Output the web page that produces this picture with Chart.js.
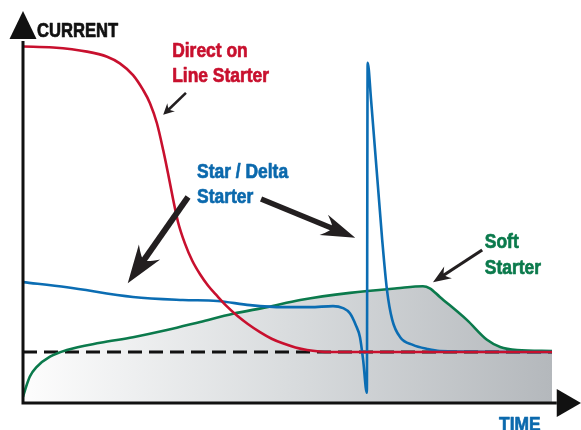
<!DOCTYPE html>
<html>
<head>
<meta charset="utf-8">
<script src="https://cdn.jsdelivr.net/npm/chart.js@4/dist/chart.umd.min.js"></script>
<style>
html,body{margin:0;padding:0;background:#fff;}
#wrap{width:581px;height:430px;position:relative;}
</style>
</head>
<body>
<div id="wrap"><canvas id="c"></canvas></div>
<script>
// ---- data (time in % of plotted span, current in multiples of rated current) ----
const dolTime    = [0, 5.7, 12.1, 15.9, 18.3, 20.8, 22.7, 24.0, 25.3, 26.5, 27.4, 28.4, 29.3, 30.6, 32.0, 33.5, 35.0, 36.7, 38.5, 40.5, 42.5, 44.8, 47.0, 49.1, 51.5, 53.7, 56.0, 58, 100];
const dolCurrent = [6.99, 6.97, 6.89, 6.79, 6.66, 6.43, 6.14, 5.88, 5.49, 4.96, 4.51, 3.98, 3.55, 3.13, 2.79, 2.52, 2.30, 2.10, 1.90, 1.71, 1.55, 1.39, 1.26, 1.17, 1.09, 1.04, 1.01, 1.0, 1.0];

const sdTime     = [0, 8.3, 20.8, 30.2, 36.7, 42.9, 49.1, 54.3, 58.6, 60.5, 61.8, 62.9, 63.7, 64.3, 65.0, 65.15, 65.8, 67.9, 68.8, 69.8, 71.3, 73.7, 76.4, 78.8, 100];
const sdCurrent  = [2.37, 2.27, 2.08, 2.02, 2.0, 1.92, 1.88, 1.88, 1.90, 1.86, 1.76, 1.53, 1.29, 0.84, 0.2, 6.67, 5.94, 3.2, 2.22, 1.63, 1.29, 1.14, 1.06, 1.02, 1.0];

const softTime    = [0, 0.4, 1.3, 2.6, 5.1, 8.3, 14.6, 20.8, 27.2, 33.5, 39.7, 46.1, 52.4, 61.8, 70.7, 75.6, 76.9, 78.8, 83.9, 87.7, 90.2, 93.4, 100];
const softCurrent = [0.12, 0.26, 0.52, 0.71, 0.91, 1.04, 1.18, 1.29, 1.43, 1.59, 1.75, 1.88, 2.02, 2.16, 2.25, 2.29, 2.25, 2.08, 1.63, 1.24, 1.10, 1.04, 1.02];

const ratedTime    = [0, 100];
const ratedCurrent = [1, 1];

// ---- labels & annotations (data units) ----
const labels = [
  {text: 'CURRENT',      t: 2.65, i: 7.18, color: '#111111', size: 20},
  {text: 'Direct on',    t: 28.2, i: 6.78, color: '#c8102e', size: 21},
  {text: 'Line Starter', t: 28.2, i: 6.29, color: '#c8102e', size: 21},
  {text: 'Star / Delta', t: 32.9, i: 4.41, color: '#0b69ad', size: 21},
  {text: 'Starter',      t: 32.9, i: 3.92, color: '#0b69ad', size: 21},
  {text: 'Soft',         t: 87.3, i: 3.04, color: '#0b7a4c', size: 21},
  {text: 'Starter',      t: 87.3, i: 2.53, color: '#0b7a4c', size: 21},
  {text: 'TIME',         t: 90.0, i: -0.55, color: '#0b69ad', size: 21}
];
const pointers = [
  {t1: 30.8, i1: 6.08, t2: 26.5, i2: 5.65, w: 2.6, hl: 11, hw: 5.5},
  {t1: 31.2, i1: 4.04, t2: 19.8, i2: 2.35, w: 6,   hl: 38, hw: 13},
  {t1: 45.0, i1: 4.00, t2: 62.8, i2: 3.24, w: 5.5, hl: 34, hw: 11},
  {t1: 86.8, i1: 3.00, t2: 77.5, i2: 2.37, w: 3.2, hl: 18, hw: 7}
];

const zip = (xs, ys) => xs.map((x, k) => ({x: x, y: ys[k]}));

function drawArrow(ctx, x1, y1, x2, y2, w, hl, hw) {
  const ang = Math.atan2(y2 - y1, x2 - x1);
  const len = Math.hypot(x2 - x1, y2 - y1);
  ctx.save();
  ctx.translate(x2, y2);
  ctx.rotate(ang);
  ctx.fillStyle = '#231f20';
  ctx.fillRect(-len, -w / 2, len - hl * 0.6, w);
  ctx.beginPath();
  ctx.moveTo(0, 0);
  ctx.lineTo(-hl, -hw);
  ctx.quadraticCurveTo(-hl * 0.7, -w * 0.3, -hl * 0.75, 0);
  ctx.quadraticCurveTo(-hl * 0.7, w * 0.3, -hl, hw);
  ctx.closePath();
  ctx.fill();
  ctx.restore();
}

const decor = {
  id: 'decor',
  afterDatasetsDraw(chart) {
    const ctx = chart.ctx, xs = chart.scales.x, ys = chart.scales.y;
    const X = v => xs.getPixelForValue(v), Y = v => ys.getPixelForValue(v);
    ctx.save();
    ctx.strokeStyle = '#111';
    ctx.fillStyle = '#111';
    ctx.lineWidth = 3;
    const ox = X(0), oy = Y(0);
    ctx.beginPath();
    ctx.moveTo(ox, oy + 1.5);
    ctx.lineTo(ox, Y(7.1));
    ctx.moveTo(ox - 1.5, oy);
    ctx.lineTo(X(100.9), oy);
    ctx.stroke();
    const top = chart.chartArea.top;
    ctx.beginPath();
    ctx.moveTo(ox, top - 1);
    ctx.lineTo(ox - 13.5, Y(7.14));
    ctx.lineTo(ox + 13.5, Y(7.14));
    ctx.closePath();
    ctx.fill();
    const right = chart.chartArea.right;
    ctx.beginPath();
    ctx.moveTo(right, oy);
    ctx.lineTo(X(100.9), oy - 14);
    ctx.lineTo(X(100.9), oy + 14);
    ctx.closePath();
    ctx.fill();
    pointers.forEach(p => drawArrow(ctx, X(p.t1), Y(p.i1), X(p.t2), Y(p.i2), p.w, p.hl, p.hw));
    ctx.textBaseline = 'alphabetic';
    ctx.textAlign = 'left';
    labels.forEach(l => {
      ctx.save();
      ctx.fillStyle = l.color;
      ctx.strokeStyle = l.color;
      ctx.lineWidth = 0.7;
      ctx.lineJoin = 'round';
      ctx.font = 'bold ' + l.size + 'px "Liberation Sans", Arial, sans-serif';
      ctx.translate(X(l.t), Y(l.i));
      ctx.scale(0.83, 1);
      ctx.fillText(l.text, 0, 0);
      ctx.strokeText(l.text, 0, 0);
      ctx.restore();
    });
    ctx.restore();
  }
};

const ctx = document.getElementById('c').getContext('2d');
new Chart(ctx, {
  type: 'line',
  data: {
    datasets: [
      {label: 'Direct on Line Starter', data: zip(dolTime, dolCurrent), borderColor: '#c8102e', borderWidth: 2.6, pointRadius: 0, cubicInterpolationMode: 'monotone', fill: false},
      {label: 'Star / Delta Starter', data: zip(sdTime, sdCurrent), borderColor: '#0b6db3', borderWidth: 2.6, pointRadius: 0, cubicInterpolationMode: 'monotone', fill: false},
      {label: 'Soft Starter', data: zip(softTime, softCurrent), borderColor: '#0b7a4c', borderWidth: 2.6, pointRadius: 0, cubicInterpolationMode: 'monotone',
        fill: 'origin',
        backgroundColor: (c) => {
          const ch = c.chart, a = ch.chartArea;
          if (!a) return '#ddd';
          const g = ch.ctx.createLinearGradient(ch.scales.x.getPixelForValue(0), 0, ch.scales.x.getPixelForValue(100), 0);
          g.addColorStop(0, '#fdfdfd');
          g.addColorStop(0.5, '#d9dcde');
          g.addColorStop(1, '#b4b8bc');
          return g;
        }},
      {label: 'Rated current', data: zip(ratedTime, ratedCurrent), borderColor: '#111', borderWidth: 3, borderDash: [14, 7], pointRadius: 0, fill: false}
    ]
  },
  options: {
    responsive: true,
    maintainAspectRatio: false,
    animation: false,
    layout: {padding: {left: 23, right: 0, top: 12, bottom: 27}},
    scales: {
      x: {type: 'linear', min: 0, max: 105.48, display: false},
      y: {type: 'linear', min: 0, max: 7.667, display: false}
    },
    plugins: {
      legend: {display: false},
      tooltip: {enabled: false},
      filler: {drawTime: 'beforeDatasetsDraw'}
    }
  },
  plugins: [decor]
});
</script>
</body>
</html>
